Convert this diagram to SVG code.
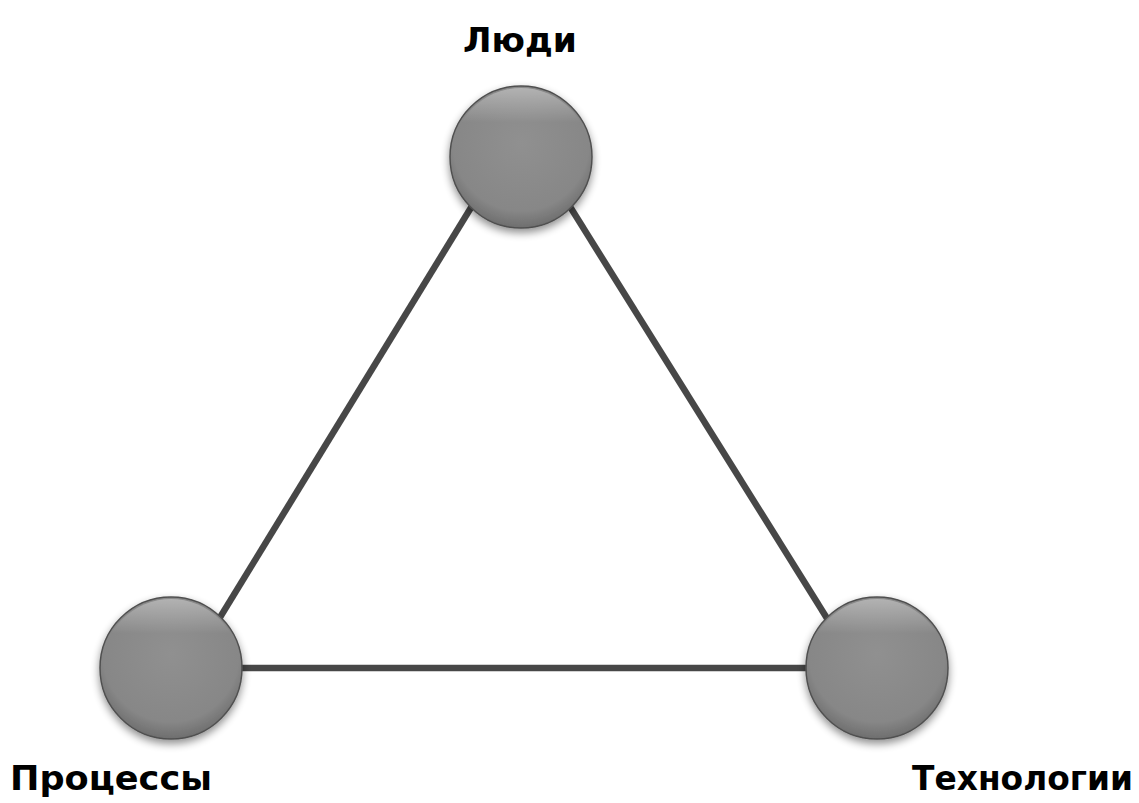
<svg xmlns="http://www.w3.org/2000/svg" width="1139" height="803" viewBox="0 0 1139 803">
  <defs>
    <radialGradient id="ball" cx="50%" cy="40%" r="60%">
      <stop offset="0" stop-color="#909090"/>
      <stop offset="0.8" stop-color="#878787"/>
      <stop offset="1" stop-color="#6e6e6e"/>
    </radialGradient>
    <linearGradient id="shine" x1="0" y1="0" x2="0" y2="1">
      <stop offset="0" stop-color="#ffffff" stop-opacity="0.35"/>
      <stop offset="0.25" stop-color="#ffffff" stop-opacity="0"/>
    </linearGradient>
    <filter id="shadow" x="-30%" y="-30%" width="160%" height="170%">
      <feGaussianBlur in="SourceAlpha" stdDeviation="4"/>
      <feOffset dy="4"/>
      <feComponentTransfer><feFuncA type="linear" slope="0.45"/></feComponentTransfer>
      <feMerge><feMergeNode/><feMergeNode in="SourceGraphic"/></feMerge>
    </filter>
  </defs>
  <style>
    .edge { stroke: #474747; stroke-width: 6.5; fill: none; }
    .node { fill: url(#ball); stroke: #505050; stroke-width: 1.5; filter: url(#shadow); }
    .hl { fill: url(#shine); stroke: none; }
    .label { font-family: "DejaVu Sans", "Liberation Sans", sans-serif; font-weight: bold; font-size: 33px; fill: #000; }
  </style>
  <rect width="1139" height="803" fill="#ffffff"/>
  <g id="connectors">
    <line class="edge" x1="502" y1="157" x2="189" y2="668"/>
    <line class="edge" x1="539" y1="157" x2="858" y2="668"/>
    <line class="edge" x1="171" y1="668" x2="877" y2="668"/>
  </g>
  <g id="node-people">
    <circle class="node" cx="521" cy="157" r="71"/>
    <circle class="hl" cx="521" cy="157" r="69"/>
    <text class="label" x="463" y="52" textLength="114" lengthAdjust="spacingAndGlyphs">Люди</text>
  </g>
  <g id="node-processes">
    <circle class="node" cx="171" cy="668" r="71"/>
    <circle class="hl" cx="171" cy="668" r="69"/>
    <text class="label" x="10" y="790" textLength="202" lengthAdjust="spacingAndGlyphs">Процессы</text>
  </g>
  <g id="node-technologies">
    <circle class="node" cx="877" cy="668" r="71"/>
    <circle class="hl" cx="877" cy="668" r="69"/>
    <text class="label" x="912" y="790" textLength="221" lengthAdjust="spacingAndGlyphs">Технологии</text>
  </g>
</svg>
